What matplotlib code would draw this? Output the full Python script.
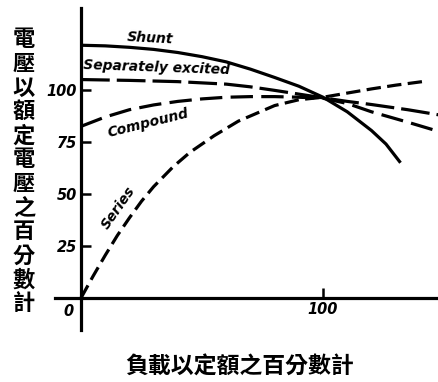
import matplotlib.pyplot as plt

# 負載 (% of rated load) vs 電壓 (% of rated voltage)
shunt_x = [0, 10, 20, 30, 40, 50, 60, 70, 80, 90, 100, 110, 120, 126, 132]
shunt_y = [121.5, 121.2, 120.5, 119.5, 118, 116, 113.5, 110, 106, 101.8, 96.5, 89.5, 80.5, 74, 65]

sep_x = [0, 20, 40, 60, 70, 80, 90, 100, 110, 120, 135, 148]
sep_y = [105, 104.6, 104, 102.8, 101.5, 99.8, 98, 96.2, 94.5, 93, 90.5, 88]

comp_x = [0, 10, 20, 30, 40, 50, 60, 70, 80, 90, 100, 110, 120, 135, 148]
comp_y = [82.5, 87, 90.5, 92.8, 94.5, 95.7, 96.5, 96.8, 96.8, 96.5, 96, 93.5, 89.5, 84.5, 80]

series_x = [0, 5, 10, 15, 20, 25, 30, 38, 45, 50, 55, 65, 80, 90, 100, 110, 120, 130, 141]
series_y = [0, 10.5, 20.5, 30, 38.5, 46.5, 53.5, 63, 70, 74, 78, 85, 92.5, 95.3, 96.5, 98.5, 100.5, 102.3, 104]

yticks = [25, 50, 75, 100]
xticks = [100]
ylabel = "電壓以額定電壓之百分數計"
xlabel = "負載以定額之百分數計"

cjk = ['Noto Sans CJK TC', 'DejaVu Sans']

fig = plt.figure(figsize=(4.39, 3.82), dpi=100)
ax = fig.add_axes([55 / 439, 52 / 382, 384 / 439, 322 / 382])
ax.set_xlim(-10.74, 147.9)
ax.set_ylim(-15.4, 139.4)

for side in ['top', 'right']:
    ax.spines[side].set_visible(False)
for side in ['left', 'bottom']:
    ax.spines[side].set_position(('data', 0))
    ax.spines[side].set_linewidth(2.3)

ax.set_yticks(yticks)
ax.set_xticks(xticks)
ax.tick_params(direction='in', length=7, width=1.8, labelsize=10.5, pad=3)
for lab in ax.get_xticklabels() + ax.get_yticklabels():
    lab.set_fontstyle('italic')
    lab.set_fontweight('bold')
ax.annotate('0', (0, 0), xytext=(-9, -10), textcoords='offset points',
            ha='center', va='center', fontsize=10.5, fontstyle='italic', fontweight='bold')

lw = 2.3
ax.plot(shunt_x, shunt_y, color='black', lw=lw, solid_capstyle='butt')
ax.plot(sep_x, sep_y, color='black', lw=lw, dashes=(9, 2.2))
ax.plot(comp_x, comp_y, color='black', lw=lw, dashes=(7, 2.6))
ax.plot(series_x, series_y, color='black', lw=lw, dashes=(4.5, 2))

lab_kw = dict(fontsize=10, fontstyle='italic', fontweight='bold', ha='center', va='center')
ax.text(28.5, 125, 'Shunt', rotation=-3, **lab_kw)
ax.text(31.4, 110.6, 'Separately excited', rotation=-2, **lab_kw)
ax.text(27.7, 84.1, 'Compound', rotation=14, **lab_kw)
ax.text(15.3, 43.3, 'Series', rotation=55, **lab_kw)

# vertical y label, one character per line
for i, ch in enumerate(ylabel):
    fig.text(24 / 439, 1 - (40 + 24 * i) / 382, ch, ha='center', va='center',
             fontsize=16, fontweight='bold', family=cjk)
fig.text(240 / 439, 1 - 367 / 382, xlabel, ha='center', va='center',
         fontsize=16.5, fontweight='bold', family=cjk)

fig.savefig('out.png', dpi=100)
